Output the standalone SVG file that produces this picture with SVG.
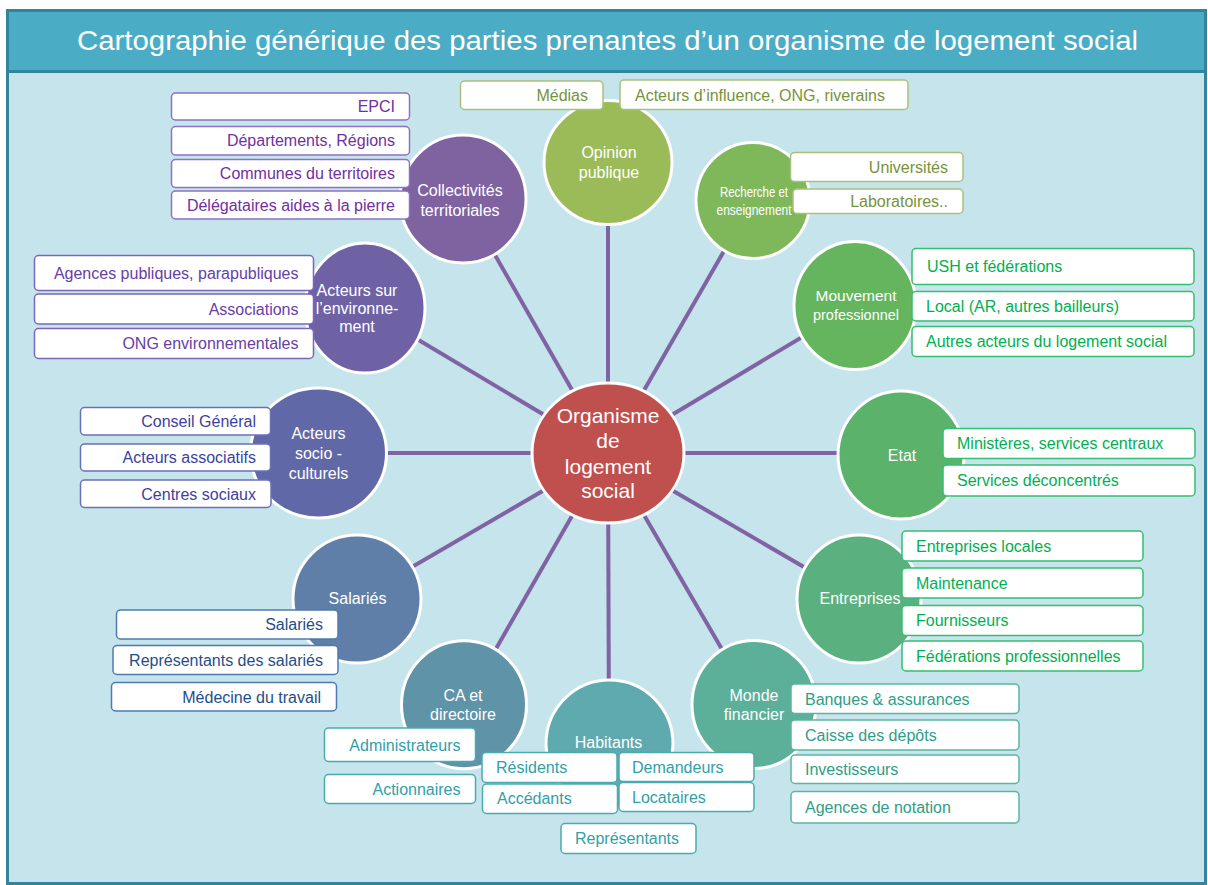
<svg xmlns="http://www.w3.org/2000/svg" width="1208" height="885" viewBox="0 0 1208 885">
<style>
text{font-family:"Liberation Sans",Arial,sans-serif}
.title{fill:#fff;font-size:28px}
.nt{fill:#fff;font-size:16px;text-anchor:middle}
.ct{fill:#fff;font-size:21px;text-anchor:middle}
.sat{stroke:#fff;stroke-width:3}
.box{fill:#fff;stroke-width:1.5}
.bt{font-size:16px}
.r{text-anchor:end}
.conn line{stroke:#7F63A3;stroke-width:4}
.pu rect{stroke:#8F70C2}.pu .bt{fill:#7030A0}
.en rect{stroke:#7C66B8}.en .bt{fill:#6640A6}
.so rect{stroke:#6A70B8}.so .bt{fill:#3D3F9E}
.sa rect{stroke:#4E7AB0}.sa .bt{fill:#1F4E8A}
.ca rect{stroke:#4AABAF}.ca .bt{fill:#31A0A8}
.mo rect{stroke:#5BB5A0}.mo .bt{fill:#2E9E86}
.gr rect{stroke:#34BF70}.gr .bt{fill:#00B050}
.ol rect{stroke:#A9C07A}.ol .bt{fill:#77933C}
</style>
<rect x="7.5" y="10.5" width="1198" height="873" fill="#C6E4EC" stroke="#31849B" stroke-width="3"/>
<rect x="7.5" y="10.5" width="1198" height="61" fill="#4BACC6" stroke="#31849B" stroke-width="3"/>
<text class="title" x="77" y="50" textLength="1061" lengthAdjust="spacingAndGlyphs">Cartographie générique des parties prenantes d’un organisme de logement social</text>

<g class="conn" id="connectors">
<line x1="608" y1="453" x2="608" y2="162.5"/>
<line x1="608" y1="453" x2="753" y2="200.5"/>
<line x1="608" y1="453" x2="855" y2="305.5"/>
<line x1="608" y1="453" x2="901" y2="453"/>
<line x1="608" y1="453" x2="859" y2="599"/>
<line x1="608" y1="453" x2="754" y2="704.5"/>
<line x1="608" y1="453" x2="609" y2="744"/>
<line x1="608" y1="453" x2="464" y2="704.7"/>
<line x1="608" y1="453" x2="357" y2="599"/>
<line x1="608" y1="453" x2="318.5" y2="453"/>
<line x1="608" y1="453" x2="365" y2="308"/>
<line x1="608" y1="453" x2="463" y2="199"/>
</g>

<g id="node-centre">
<ellipse class="sat" cx="608" cy="453" rx="76" ry="70" fill="#C0504D"/>
<text class="ct" x="608" y="422.5">Organisme</text>
<text class="ct" x="608" y="448">de</text>
<text class="ct" x="608" y="474">logement</text>
<text class="ct" x="608" y="498">social</text>
</g>

<g id="node-opinion" class="ol">
<ellipse class="sat" cx="608" cy="162.5" rx="64" ry="62" fill="#9BBB59"/>
<text class="nt" x="609" y="157.5">Opinion</text>
<text class="nt" x="609" y="177.5">publique</text>
<rect class="box" x="460.5" y="81" width="142.5" height="28.5" rx="4"/>
<text class="bt r" x="588" y="101">Médias</text>
<rect class="box" x="620" y="80" width="288" height="29.5" rx="4"/>
<text class="bt" x="635" y="101">Acteurs d’influence, ONG, riverains</text>
</g>

<g id="node-recherche" class="ol">
<ellipse class="sat" cx="753" cy="200.5" rx="57" ry="58" fill="#7FB85A"/>
<text class="nt" x="754" y="197" style="font-size:15px" textLength="68" lengthAdjust="spacingAndGlyphs">Recherche et</text>
<text class="nt" x="754" y="215" style="font-size:15px" textLength="75" lengthAdjust="spacingAndGlyphs">enseignement</text>
<rect class="box" x="790.5" y="152.5" width="172.5" height="29" rx="4"/>
<text class="bt r" x="948" y="172.5">Universités</text>
<rect class="box" x="793" y="189" width="170" height="24.5" rx="4"/>
<text class="bt r" x="948" y="207">Laboratoires..</text>
</g>

<g id="node-mouvement" class="gr">
<ellipse class="sat" cx="855" cy="305.5" rx="61" ry="64" fill="#65B55E"/>
<text class="nt" x="856" y="300.5" style="font-size:15.5px">Mouvement</text>
<text class="nt" x="856" y="319.5" style="font-size:15.5px" textLength="86" lengthAdjust="spacingAndGlyphs">professionnel</text>
<rect class="box" x="912" y="248.5" width="282" height="36" rx="4"/>
<text class="bt" x="927" y="272">USH et fédérations</text>
<rect class="box" x="912" y="291.5" width="282" height="29.5" rx="4"/>
<text class="bt" x="926" y="312">Local (AR, autres bailleurs)</text>
<rect class="box" x="912" y="326.5" width="282" height="30" rx="4"/>
<text class="bt" x="926" y="347">Autres acteurs du logement social</text>
</g>

<g id="node-etat" class="gr">
<ellipse class="sat" cx="901" cy="455" rx="63" ry="64" fill="#5BB26A"/>
<text class="nt" x="902" y="461">Etat</text>
<rect class="box" x="943" y="428.5" width="252" height="30" rx="4"/>
<text class="bt" x="957" y="449">Ministères, services centraux</text>
<rect class="box" x="943" y="465" width="252" height="31" rx="4"/>
<text class="bt" x="957" y="486">Services déconcentrés</text>
</g>

<g id="node-entreprises" class="gr">
<ellipse class="sat" cx="859" cy="599" rx="62" ry="64" fill="#5BB07F"/>
<text class="nt" x="860" y="604">Entreprises</text>
<rect class="box" x="902" y="531" width="241" height="30" rx="4"/>
<text class="bt" x="916" y="551.5">Entreprises locales</text>
<rect class="box" x="902" y="568" width="241" height="30" rx="4"/>
<text class="bt" x="916" y="588.5">Maintenance</text>
<rect class="box" x="902" y="605.5" width="241" height="30" rx="4"/>
<text class="bt" x="916" y="626">Fournisseurs</text>
<rect class="box" x="902" y="641" width="241" height="30" rx="4"/>
<text class="bt" x="916" y="661.5">Fédérations professionnelles</text>
</g>

<g id="node-monde" class="mo">
<ellipse class="sat" cx="754" cy="704.5" rx="62" ry="64" fill="#5CAF98"/>
<text class="nt" x="754" y="700.5">Monde</text>
<text class="nt" x="754" y="720">financier</text>
<rect class="box" x="791" y="684" width="228" height="29.5" rx="4"/>
<text class="bt" x="805" y="704.5">Banques &amp; assurances</text>
<rect class="box" x="791" y="720" width="228" height="30" rx="4"/>
<text class="bt" x="805" y="740.5">Caisse des dépôts</text>
<rect class="box" x="791" y="755" width="228" height="28.5" rx="4"/>
<text class="bt" x="805" y="775">Investisseurs</text>
<rect class="box" x="791" y="791.5" width="228" height="31.5" rx="4"/>
<text class="bt" x="805" y="813">Agences de notation</text>
</g>

<g id="node-ca" class="ca">
<ellipse class="sat" cx="464" cy="704.7" rx="62.5" ry="64" fill="#5F93A8"/>
<text class="nt" x="463" y="700.5">CA et</text>
<text class="nt" x="463" y="720">directoire</text>
<rect class="box" x="324.5" y="728" width="151" height="33.5" rx="4"/>
<text class="bt r" x="460.5" y="750.5">Administrateurs</text>
<rect class="box" x="324.5" y="774.5" width="151" height="29" rx="4"/>
<text class="bt r" x="460.5" y="794.5">Actionnaires</text>
</g>

<g id="node-habitants" class="ca">
<ellipse class="sat" cx="609.5" cy="744" rx="63.5" ry="64" fill="#5FAAAE"/>
<text class="nt" x="608.5" y="748">Habitants</text>
<rect class="box" x="482" y="752.5" width="135" height="30" rx="4"/>
<text class="bt" x="496" y="773">Résidents</text>
<rect class="box" x="619" y="752.5" width="135" height="29" rx="4"/>
<text class="bt" x="632" y="772.5">Demandeurs</text>
<rect class="box" x="482.5" y="784" width="135" height="29.5" rx="4"/>
<text class="bt" x="497" y="804">Accédants</text>
<rect class="box" x="619" y="782.5" width="135" height="29" rx="4"/>
<text class="bt" x="632" y="802.5">Locataires</text>
<rect class="box" x="561" y="823.5" width="135" height="30" rx="4"/>
<text class="bt" x="575" y="844">Représentants</text>
</g>

<g id="node-salaries" class="sa">
<ellipse class="sat" cx="357" cy="599" rx="64" ry="64" fill="#607FA8"/>
<text class="nt" x="357.5" y="604">Salariés</text>
<rect class="box" x="116.5" y="610" width="221.5" height="29" rx="4"/>
<text class="bt r" x="323" y="630">Salariés</text>
<rect class="box" x="113" y="645.5" width="225" height="29" rx="4"/>
<text class="bt r" x="323" y="665.5">Représentants des salariés</text>
<rect class="box" x="111.5" y="682.5" width="225" height="28.5" rx="4"/>
<text class="bt r" x="321" y="702.5">Médecine du travail</text>
</g>

<g id="node-socio" class="so">
<ellipse class="sat" cx="318.5" cy="453" rx="68" ry="65" fill="#6168A7"/>
<text class="nt" x="318.5" y="439">Acteurs</text>
<text class="nt" x="318.5" y="458.5">socio -</text>
<text class="nt" x="318.5" y="478.5">culturels</text>
<rect class="box" x="80.5" y="407.5" width="190" height="27.5" rx="4"/>
<text class="bt r" x="256" y="427">Conseil Général</text>
<rect class="box" x="80.5" y="444" width="190" height="27" rx="4"/>
<text class="bt r" x="256" y="463">Acteurs associatifs</text>
<rect class="box" x="80.5" y="480" width="190.5" height="27.5" rx="4"/>
<text class="bt r" x="256" y="499.5">Centres sociaux</text>
</g>

<g id="node-environnement" class="en">
<ellipse class="sat" cx="365" cy="308" rx="60" ry="65" fill="#6E62A5"/>
<text class="nt" x="357" y="295.5">Acteurs sur</text>
<text class="nt" x="357" y="314">l’environne-</text>
<text class="nt" x="357" y="331.5">ment</text>
<rect class="box" x="34.5" y="255.5" width="279" height="35" rx="4"/>
<text class="bt r" x="298.5" y="278.5">Agences publiques, parapubliques</text>
<rect class="box" x="34.5" y="294" width="279" height="30" rx="4"/>
<text class="bt r" x="298.5" y="314.5">Associations</text>
<rect class="box" x="34.5" y="328.5" width="279" height="30" rx="4"/>
<text class="bt r" x="298.5" y="349">ONG environnementales</text>
</g>

<g id="node-collectivites" class="pu">
<ellipse class="sat" cx="463" cy="199" rx="63" ry="64" fill="#7F63A1"/>
<text class="nt" x="460" y="196">Collectivités</text>
<text class="nt" x="460" y="215.5">territoriales</text>
<rect class="box" x="171.5" y="93" width="238" height="27" rx="4"/>
<text class="bt r" x="395" y="112">EPCI</text>
<rect class="box" x="171.5" y="126.5" width="238" height="28.5" rx="4"/>
<text class="bt r" x="395" y="146">Départements, Régions</text>
<rect class="box" x="171.5" y="159.5" width="238" height="28" rx="4"/>
<text class="bt r" x="395" y="179">Communes du territoires</text>
<rect class="box" x="171.5" y="191" width="238" height="28" rx="4"/>
<text class="bt r" x="395" y="210.5">Délégataires aides à la pierre</text>
</g>
</svg>
